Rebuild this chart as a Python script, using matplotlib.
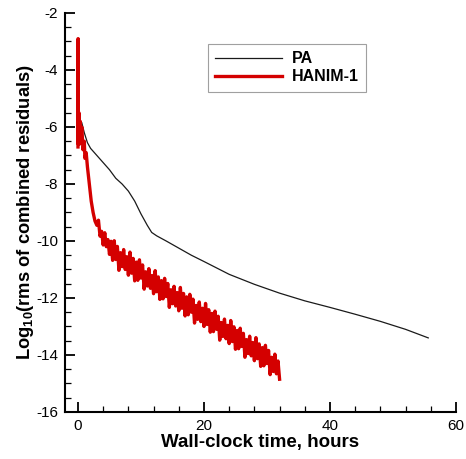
import matplotlib
matplotlib.use("Agg")
import matplotlib.pyplot as plt
from matplotlib.ticker import MultipleLocator

# PA convergence history (hours, log10 rms)
pa_hours = [0.6, 1.0, 1.5, 2.0, 3.0, 4.0, 5.0, 6.0, 7.0, 8.0, 9.0, 10.0, 11.0,
            11.7, 12.5, 14.0, 16.0, 18.0, 20.0, 24.0, 28.0, 32.0, 36.0, 40.0,
            44.0, 48.0, 52.0, 55.6]
pa_resid = [-5.85, -6.2, -6.55, -6.75, -7.0, -7.25, -7.5, -7.8, -8.0, -8.25,
            -8.6, -9.05, -9.45, -9.7, -9.82, -10.0, -10.25, -10.5, -10.72,
            -11.17, -11.52, -11.83, -12.1, -12.33, -12.57, -12.82, -13.1, -13.4]

# HANIM-1: start-up transient
hanim_start_hours = [0.0, 0.02, 0.05, 0.15, 0.25, 0.35, 0.45, 0.6, 0.8, 1.0,
                     1.1, 1.3, 1.5, 1.8, 2.1, 2.4, 2.7, 3.0]
hanim_start_resid = [-6.7, -2.9, -6.6, -5.5, -6.6, -5.8, -6.5, -6.0, -6.8, -6.5,
                     -7.1, -6.9, -7.4, -8.0, -8.6, -9.0, -9.3, -9.45]

# HANIM-1: oscillating part, sampled every 0.25 h from 3.25 h to 32 h
hanim_osc_resid = [
    -9.27, -9.83, -9.66, -10.14, -9.71, -10.20, -9.95, -10.47,
    -10.01, -10.68, -9.99, -10.65, -10.19, -11.03, -10.41, -10.90,
    -10.30, -11.00, -10.55, -11.20, -10.39, -11.13, -10.61, -11.40,
    -10.74, -11.38, -10.66, -11.30, -10.84, -11.69, -11.08, -11.58,
    -10.97, -11.66, -11.21, -11.85, -11.04, -11.78, -11.26, -12.05,
    -11.39, -12.03, -11.31, -11.95, -11.49, -12.33, -11.71, -12.20,
    -11.59, -12.28, -11.81, -12.45, -11.63, -12.36, -11.84, -12.63,
    -11.96, -12.59, -11.87, -12.50, -12.04, -12.88, -12.26, -12.75,
    -12.14, -12.83, -12.36, -13.00, -12.19, -12.93, -12.41, -13.20,
    -12.54, -13.18, -12.46, -13.10, -12.64, -13.48, -12.86, -13.35,
    -12.74, -13.43, -12.96, -13.60, -12.79, -13.53, -13.01, -13.80,
    -13.14, -13.78, -13.06, -13.70, -13.24, -14.08, -13.46, -13.95,
    -13.34, -14.03, -13.56, -14.20, -13.39, -14.13, -13.61, -14.40,
    -13.74, -14.38, -13.66, -14.30, -13.84, -14.69, -14.08, -14.58,
    -13.97, -14.66, -14.21, -14.85,
]
hanim_osc_hours = [3.25 + 0.25 * i for i in range(len(hanim_osc_resid))]

hanim_hours = hanim_start_hours + hanim_osc_hours
hanim_resid = hanim_start_resid + hanim_osc_resid

plt.rcParams['font.family'] = ['Liberation Sans', 'DejaVu Sans']
plt.rcParams['axes.unicode_minus'] = False
plt.rcParams['mathtext.fontset'] = 'custom'
plt.rcParams['mathtext.rm'] = 'Liberation Sans:bold'
plt.rcParams['mathtext.it'] = 'Liberation Sans:bold'
plt.rcParams['mathtext.bf'] = 'Liberation Sans:bold'

fig = plt.figure(figsize=(4.66, 4.59), dpi=100)
ax = fig.add_axes([0.1395, 0.1024, 0.839, 0.8693])

ax.plot(pa_hours, pa_resid, color='#1a1a1a', linewidth=0.9, label='PA')
ax.plot(hanim_hours, hanim_resid, color='#d40000', linewidth=2.4,
        label='HANIM-1')

ax.set_xlim(-2.06, 60)
ax.set_ylim(-16, -2)
ax.xaxis.set_major_locator(MultipleLocator(20))
ax.xaxis.set_minor_locator(MultipleLocator(4))
ax.yaxis.set_major_locator(MultipleLocator(2))
ax.yaxis.set_minor_locator(MultipleLocator(0.5))

ax.spines['top'].set_visible(False)
ax.spines['right'].set_visible(False)
for s in ('left', 'bottom'):
    ax.spines[s].set_linewidth(1.5)

ax.tick_params(which='major', direction='in', length=7.5, width=1.3,
               labelsize=11)
ax.tick_params(which='minor', direction='in', length=4.5, width=0.9)
ax.tick_params(axis='x', pad=5)
ax.tick_params(axis='y', pad=5)

ax.set_xlabel('Wall-clock time, hours', fontsize=13.5, fontweight='bold',
              labelpad=1)
ax.set_ylabel(r'Log$_{10}$(rms of combined residuals)', fontsize=13.2,
              fontweight='bold', labelpad=0)

leg = ax.legend(loc='upper left', bbox_to_anchor=(0.366, 0.922),
                borderaxespad=0, fancybox=False, frameon=True,
                edgecolor='#888888', handlelength=4.2, handletextpad=0.6,
                prop={'weight': 'bold', 'size': 11.5}, labelspacing=0.2,
                borderpad=0.45)
leg.get_frame().set_linewidth(0.8)

fig.savefig('out.png', dpi=100)
